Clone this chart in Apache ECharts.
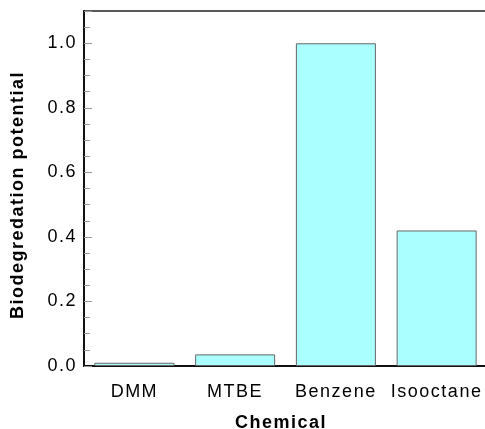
<!DOCTYPE html>
<html>
<head>
<meta charset="utf-8">
<script src="https://cdn.jsdelivr.net/npm/echarts@6/dist/echarts.min.js"></script>
<style>
  html, body { margin: 0; padding: 0; background: #fff; }
  #chart { width: 485px; height: 429px; }
</style>
</head>
<body>
<div id="chart"></div>
<script>
// Biodegradation potential per chemical
const chemicals = ['DMM', 'MTBE', 'Benzene', 'Isooctane'];
const potential = [0.01, 0.036, 1.0, 0.42];
const yTicks = [0, 0.2, 0.4, 0.6, 0.8, 1.0];

const FONT = '"Liberation Sans", Arial, Helvetica, sans-serif';

// Slightly tracked-out lettering for all chart text
(function () {
  const proto = CanvasRenderingContext2D.prototype;
  if (!('letterSpacing' in proto)) return;
  const origFill = proto.fillText;
  proto.fillText = function () {
    this.letterSpacing = '1.5px';
    return origFill.apply(this, arguments);
  };
})();

const chart = echarts.init(document.getElementById('chart'), null, { renderer: 'canvas' });

chart.setOption({
  animation: false,
  backgroundColor: '#ffffff',
  grid: {
    left: 84,
    top: 11,
    width: 403,
    height: 355,
    show: false,
    containLabel: false,
    outerBoundsMode: 'none'
  },
  xAxis: [{
    type: 'category',
    data: chemicals,
    name: 'Chemical',
    nameLocation: 'middle',
    nameGap: 48,
    nameTextStyle: {
      fontFamily: FONT,
      fontWeight: 'bold',
      fontSize: 18,
      color: '#000',
      padding: [0, 9, 0, 0]
    },
    axisLine: { show: true, lineStyle: { color: '#111', width: 2 } },
    axisTick: { show: false },
    axisLabel: {
      fontFamily: FONT,
      fontSize: 18,
      color: '#000',
      margin: 17,
      interval: 0
    },
    splitLine: { show: false }
  }, {
    // plain frame line along the top of the plot
    type: 'category',
    data: chemicals,
    position: 'top',
    axisLine: { show: true, lineStyle: { color: '#222', width: 1.5 } },
    axisTick: { show: false },
    axisLabel: { show: false },
    splitLine: { show: false }
  }],
  yAxis: {
    type: 'value',
    min: 0,
    max: 1.1,
    interval: 0.2,
    name: 'Biodegredation potential',
    nameLocation: 'middle',
    nameGap: 57,
    nameTextStyle: {
      fontFamily: FONT,
      fontWeight: 'bold',
      fontSize: 18,
      color: '#000',
      padding: [0, 13, 0, 0]
    },
    axisLine: { show: true, lineStyle: { color: '#111', width: 2 } },
    axisTick: {
      show: true,
      inside: true,
      length: 8,
      lineStyle: { color: '#999', width: 1 }
    },
    minorTick: {
      show: true,
      splitNumber: 4,
      length: 6,
      lineStyle: { color: '#999', width: 1 }
    },
    axisLabel: {
      fontFamily: FONT,
      fontSize: 18,
      color: '#000',
      margin: 7,
      formatter: function (v) {
        const hit = yTicks.find(t => Math.abs(t - v) < 1e-9);
        return hit === undefined ? '' : hit.toFixed(1);
      }
    },
    splitLine: { show: false }
  },
  series: [{
    type: 'bar',
    xAxisIndex: 0,
    data: potential,
    barWidth: 80,
    itemStyle: {
      color: '#aaffff',
      borderColor: '#666',
      borderWidth: 1
    }
  }]
});
</script>
</body>
</html>
